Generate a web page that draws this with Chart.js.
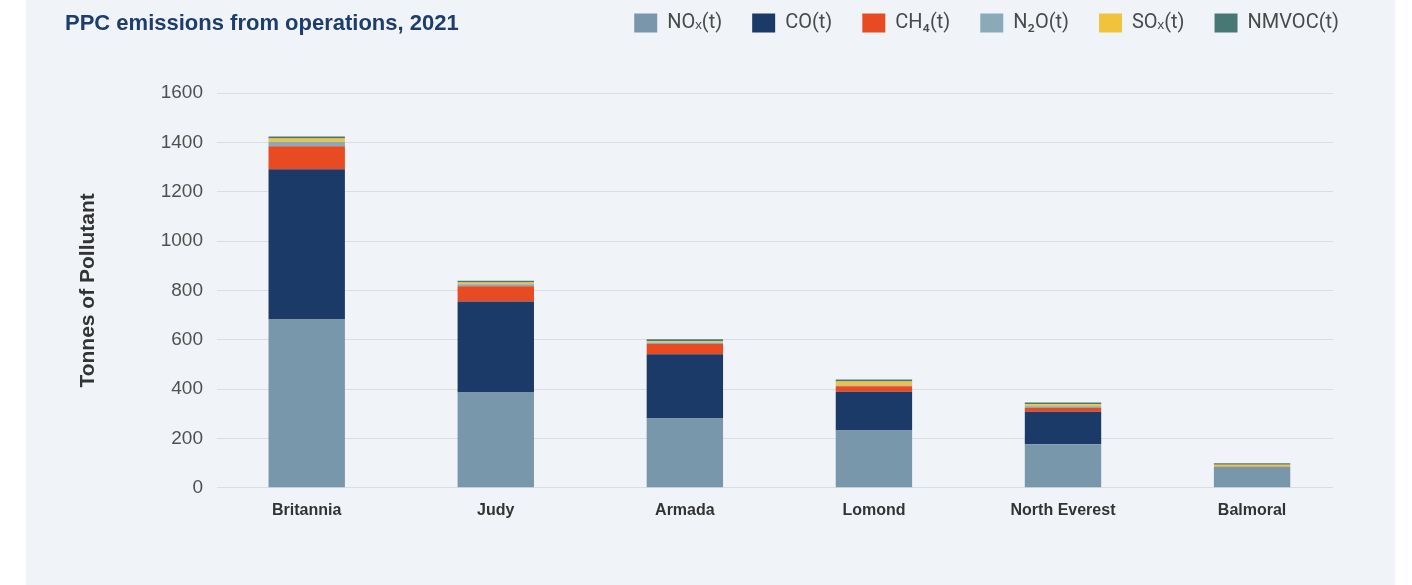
<!DOCTYPE html>
<html>
<head>
<meta charset="utf-8">
<script src="https://cdn.jsdelivr.net/npm/chart.js@4.4.1/dist/chart.umd.min.js"></script>
<style>
    body { margin: 0; background: #ffffff; width: 1412px; height: 585px; overflow: hidden; position: relative; }
    #panel { position: absolute; left: 26px; top: 0; width: 1369px; height: 585px; background: #f0f4f8; }
    #title { position: absolute; left: 65px; top: 12px; font: bold 22px "Liberation Sans", Arial, sans-serif; line-height: 1; color: #1d3d6d; white-space: nowrap; }
    #emissions { position: absolute; left: 0; top: 0; }
</style>
</head>
<body>
<div id="panel">
    <canvas id="emissions" width="1369" height="585"></canvas>
</div>
<div id="title">PPC emissions from operations, 2021</div>
<script>
const sites = ["Britannia", "Judy", "Armada", "Lomond", "North Everest", "Balmoral"];

const noxValues = [682, 386, 281, 232, 176, 84];
const coValues = [609, 369, 260, 157, 132, 0];
const ch4Values = [93, 62, 42, 23, 15, 1];
const n2oValues = [18, 8, 6, 3, 7, 1];
const soxValues = [14, 7, 5, 16, 9, 7];
const nmvocValues = [8, 7, 8, 8, 7, 7];

const yTicks = [0, 200, 400, 600, 800, 1000, 1200, 1400, 1600];

const series = [
    { label: "NOₓ(t)", data: noxValues, color: "#7897ab" },
    { label: "CO(t)", data: coValues, color: "#1b3a68" },
    { label: "CH₄(t)", data: ch4Values, color: "#e84a22" },
    { label: "N₂O(t)", data: n2oValues, color: "#89aab6" },
    { label: "SOₓ(t)", data: soxValues, color: "#f1c33c" },
    { label: "NMVOC(t)", data: nmvocValues, color: "#487873" },
];

// legend sits in the title row, right aligned, with a gap under it
const legendPlacement = {
    id: "legendPlacement",
    beforeInit(chart) {
        const fit = chart.legend.fit;
        chart.legend.fit = function () {
            fit.call(this);
            this.height += 33;
        };
    },
    afterLayout(chart) {
        const lg = chart.legend;
        const w = lg.right - lg.left;
        lg.right = chart.width - 26;
        lg.left = lg.right - w;
        lg.top = -17;
    }
};

const ctx = document.getElementById("emissions");

new Chart(ctx, {
    type: "bar",
    data: {
        datasets: series.map(s => ({
            label: s.label,
            data: s.data.map((v, i) => ({ x: i, y: v })),
            backgroundColor: s.color,
            borderWidth: 0,
            categoryPercentage: 1,
            barPercentage: 0.404,
        }))
    },
    options: {
        responsive: false,
        animation: false,
        devicePixelRatio: 1,
        layout: { padding: { left: 0, right: 62, top: 0, bottom: 60 } },
        plugins: {
            tooltip: { enabled: false },
            legend: {
                position: "top",
                align: "end",
                labels: {
                    boxWidth: 23,
                    boxHeight: 19,
                    padding: 30,
                    color: "#4a4a4a",
                    font: { family: "Roboto, sans-serif", size: 20 }
                }
            }
        },
        scales: {
            x: {
                type: "linear",
                stacked: true,
                offset: false,
                bounds: "data",
                min: -0.4745,
                max: 5.428,
                afterBuildTicks: scale => { scale.ticks = sites.map((s, i) => ({ value: i })); },
                grid: { display: false },
                border: { display: false },
                ticks: {
                    autoSkip: false,
                    maxRotation: 0,
                    padding: 5,
                    color: "#333333",
                    font: { family: "'Liberation Sans', Arial, sans-serif", size: 16, weight: "bold" },
                    callback: v => sites[v] !== undefined ? sites[v] : ""
                }
            },
            y: {
                stacked: true,
                min: yTicks[0],
                max: yTicks[yTicks.length - 1],
                afterBuildTicks: scale => { scale.ticks = yTicks.map(v => ({ value: v })); },
                afterFit: scale => { scale.width = 191; },
                grid: { color: "#dadde1", lineWidth: 1, drawTicks: false },
                border: { display: false },
                ticks: {
                    padding: 14,
                    color: "#505050",
                    font: { family: "'Liberation Sans', Arial, sans-serif", size: 19 },
                    callback: v => String(v)
                },
                title: {
                    display: true,
                    text: "Tonnes of Pollutant",
                    color: "#333333",
                    padding: { top: 50, bottom: 0 },
                    font: { family: "'Liberation Sans', Arial, sans-serif", size: 21, weight: "bold" }
                }
            }
        }
    },
    plugins: [legendPlacement]
});
</script>
</body>
</html>
